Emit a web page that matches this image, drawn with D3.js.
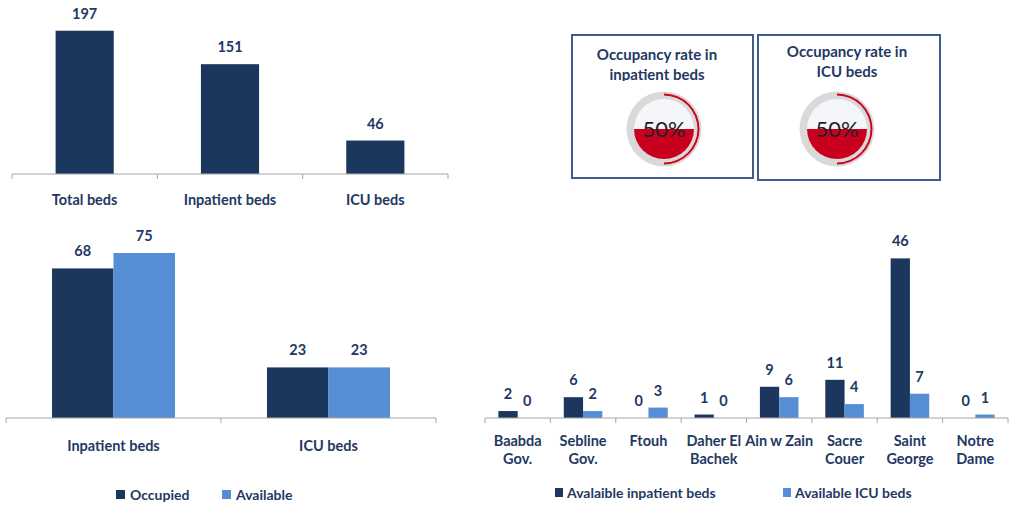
<!DOCTYPE html>
<html>
<head>
<meta charset="utf-8">
<script src="https://cdn.jsdelivr.net/npm/d3@7"></script>
<style>
  body { margin: 0; background: #fff; }
  svg text { font-family: Lato, "Open Sans", sans-serif; }
</style>
</head>
<body>
<svg id="chart" width="1021" height="506"></svg>
<script>
// data
var totalCats = ["Total beds", "Inpatient beds", "ICU beds"];
var totalVals = [197, 151, 46];

var occCats = ["Inpatient beds", "ICU beds"];
var occupied = [68, 23];
var available = [75, 23];

var hospitals = [["Baabda", "Gov."], ["Sebline", "Gov."], ["Ftouh"], ["Daher El", "Bachek"],
                 ["Ain w Zain"], ["Sacre", "Couer"], ["Saint", "George"], ["Notre", "Dame"]];
var availInpatient = [2, 6, 0, 1, 9, 11, 46, 0];
var availIcu = [0, 2, 3, 0, 6, 4, 7, 1];

var gaugeTitles = [["Occupancy rate in", "inpatient beds"], ["Occupancy rate in", "ICU beds"]];
var gaugePct = [50, 50];

var dark = "#1c375e", light = "#558ed5", txt = "#1f3864", axisCol = "#a6a6a6";

var svg = d3.select("#chart");

function drawAxis(g, x, y0, x0, x1) {
    g.append("line").attr("x1", x0).attr("x2", x1).attr("y1", y0).attr("y2", y0)
        .attr("stroke", axisCol).attr("stroke-width", 1);
    var edges = x.domain().map(function(d) { return x(d); });
    edges.push(x1);
    edges.forEach(function(e) {
        g.append("line").attr("x1", e).attr("x2", e).attr("y1", y0).attr("y2", y0 + 5)
            .attr("stroke", axisCol);
    });
}

function label(g, x, y, t, size) {
    g.append("text").attr("x", x).attr("y", y).attr("text-anchor", "middle")
        .attr("fill", txt).style("font-size", (size || 14.5) + "px").style("font-weight", "bold")
        .text(t);
}

// ---- top left : total beds
(function(){
    var g = svg.append("g");
    var x = d3.scaleBand().domain(totalCats).range([12, 448]);
    var y = d3.scaleLinear().domain([0, 220]).range([174, 14]);
    var bw = x.bandwidth() * 0.4;
    totalCats.forEach(function(c, i) {
        var cx = x(c) + x.bandwidth() / 2;
        g.append("rect").attr("x", cx - bw / 2).attr("width", bw)
            .attr("y", y(totalVals[i])).attr("height", y(0) - y(totalVals[i]))
            .attr("fill", dark);
        label(g, cx, y(totalVals[i]) - 12, totalVals[i]);
        label(g, cx, 205, c);
    });
    drawAxis(g, x, 174, 12, 448);
})();

// ---- bottom left : occupied vs available
(function(){
    var g = svg.append("g");
    var x = d3.scaleBand().domain(occCats).range([6, 436]);
    var y = d3.scaleLinear().domain([0, 80]).range([418, 242]);
    var bw = x.bandwidth() * 0.286;
    occCats.forEach(function(c, i) {
        var cx = x(c) + x.bandwidth() / 2;
        [[occupied[i], dark, -bw], [available[i], light, 0]].forEach(function(s) {
            g.append("rect").attr("x", cx + s[2]).attr("width", bw)
                .attr("y", y(s[0])).attr("height", y(0) - y(s[0])).attr("fill", s[1]);
            label(g, cx + s[2] + bw / 2, y(s[0]) - 12, s[0]);
        });
        label(g, cx, 451, c);
    });
    drawAxis(g, x, 418, 6, 436);
    var lg = g.append("g").attr("transform", "translate(116,495)");
    [["Occupied", dark, 0], ["Available", light, 106]].forEach(function(l) {
        lg.append("rect").attr("x", l[2]).attr("y", -5).attr("width", 9).attr("height", 9).attr("fill", l[1]);
        lg.append("text").attr("x", l[2] + 14).attr("y", 5).attr("fill", txt)
            .style("font-size", "14px").style("font-weight", "bold").text(l[0]);
    });
})();

// ---- bottom right : per hospital
(function(){
    var g = svg.append("g");
    var names = hospitals.map(function(h) { return h.join(" "); });
    var x = d3.scaleBand().domain(names).range([485, 1008]);
    var y = d3.scaleLinear().domain([0, 50]).range([418, 244.5]);
    var bw = x.bandwidth() * 0.295;
    names.forEach(function(c, i) {
        var cx = x(c) + x.bandwidth() / 2;
        [[availInpatient[i], dark, -bw], [availIcu[i], light, 0]].forEach(function(s) {
            if (s[0] > 0)
                g.append("rect").attr("x", cx + s[2]).attr("width", bw)
                    .attr("y", y(s[0])).attr("height", y(0) - y(s[0])).attr("fill", s[1]);
            label(g, cx + s[2] + bw / 2, y(s[0]) - 12, s[0]);
        });
        hospitals[i].forEach(function(line, k) {
            label(g, cx, 446 + k * 18, line);
        });
    });
    drawAxis(g, x, 418, 485, 1008);
    [["Avalaible inpatient beds", dark, 555], ["Available ICU beds", light, 783]].forEach(function(l) {
        g.append("rect").attr("x", l[2]).attr("y", 488).attr("width", 8).attr("height", 9).attr("fill", l[1]);
        g.append("text").attr("x", l[2] + 12).attr("y", 498).attr("fill", txt)
            .style("font-size", "14px").style("font-weight", "bold").text(l[0]);
    });
})();

// ---- gauges
var boxes = [{x: 572, y: 35, w: 181, h: 143, tx: 657, ty: 60, cx: 664},
             {x: 758, y: 35, w: 182, h: 145, tx: 847, ty: 57, cx: 837}];
svg.append("defs").append("clipPath").attr("id", "clipTitle")
    .append("rect").attr("x", 572).attr("y", 35).attr("width", 181).attr("height", 46);

boxes.forEach(function(b, i) {
    var g = svg.append("g");
    g.append("rect").attr("x", b.x).attr("y", b.y).attr("width", b.w).attr("height", b.h)
        .attr("fill", "#fff").attr("stroke", "#3d5d8c").attr("stroke-width", 2);
    var tg = g.append("g");
    if (i === 0) tg.attr("clip-path", "url(#clipTitle)");
    gaugeTitles[i].forEach(function(t, k) {
        label(tg, b.tx, b.ty + k * 20, t, 15);
    });
    var cy = 129, rOut = 37.5, rIn = 30;
    var pct = gaugePct[i] / 100;
    g.append("circle").attr("cx", b.cx).attr("cy", cy).attr("r", rOut).attr("fill", "#d9d9d9");
    g.append("circle").attr("cx", b.cx).attr("cy", cy).attr("r", rIn).attr("fill", "#f4f6fa");
    var clipId = "fill" + i;
    g.append("clipPath").attr("id", clipId).append("rect")
        .attr("x", b.cx - rIn).attr("width", rIn * 2)
        .attr("y", cy + rIn - 2 * rIn * pct).attr("height", 2 * rIn * pct);
    g.append("circle").attr("cx", b.cx).attr("cy", cy).attr("r", rIn).attr("fill", "#c8001e")
        .attr("clip-path", "url(#" + clipId + ")");
    var arc = d3.arc().innerRadius(33.5).outerRadius(35.5).startAngle(0).endAngle(2 * Math.PI * pct);
    g.append("path").attr("transform", "translate(" + b.cx + "," + cy + ")")
        .attr("d", arc()).attr("fill", "#d0021b");
    g.append("text").attr("x", b.cx).attr("y", cy + 8).attr("text-anchor", "middle")
        .attr("fill", "#222").style("font-size", "22px").text(gaugePct[i] + "%");
});
</script>
</body>
</html>
